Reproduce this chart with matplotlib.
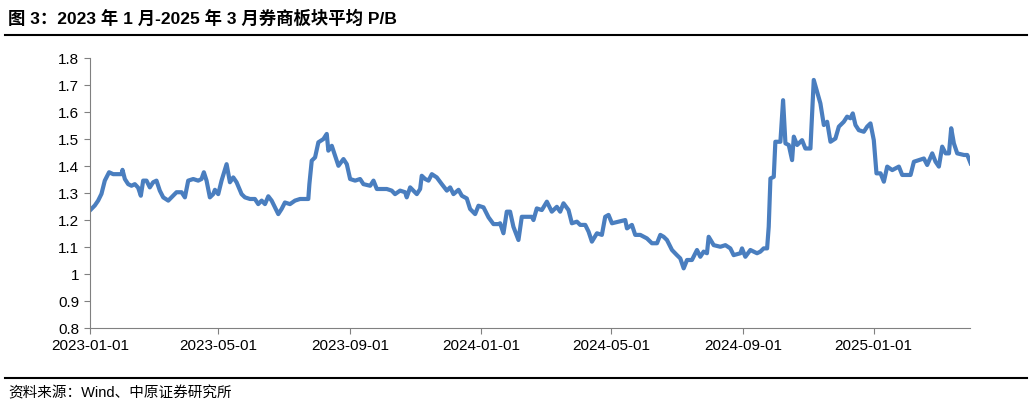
import matplotlib
matplotlib.use("Agg")
import matplotlib.pyplot as plt
from matplotlib.ticker import FuncFormatter
import pandas as pd

plt.rcParams['font.family'] = ['Liberation Sans', 'Noto Sans CJK SC', 'DejaVu Sans']

title = "图 3：2023 年 1 月-2025 年 3 月券商板块平均 P/B"
source = "资料来源：Wind、中原证券研究所"
start_date = "2023-01-01"
# days since 2023-01-01
days = [0, 4.7, 7.8, 10.9, 14.0, 18.0, 21.8, 29.6, 30.5, 32.7, 35.8, 38.9, 42.0, 45.1, 47.6, 49.8, 52.9, 56.0,
        59.1, 62.2, 65.3, 68.5, 73.2, 76.2, 80.9, 85.6, 88.7, 91.8, 96.5, 101.1, 104.2, 106.4, 108.9, 112.0,
        115.1, 116.7, 119.8, 122.9, 127.6, 130.7, 133.8, 136.9, 141.6, 144.7, 149.4, 154.0, 157.1, 160.3,
        163.4, 166.5, 169.6, 172.7, 175.8, 178.9, 182.0, 186.7, 191.4, 196.1, 200.7, 203.8, 204.8, 207.0,
        210.1, 213.2, 217.9, 221.0, 222.5, 225.7, 228.8, 231.9, 236.6, 239.7, 242.8, 247.5, 252.1, 255.2,
        261.5, 264.6, 267.7, 277.0, 281.6, 284.7, 289.4, 294.1, 295.6, 298.8, 305.0, 308.1, 309.6, 312.8,
        315.9, 319.0, 323.6, 328.3, 333.0, 336.1, 339.2, 343.9, 347.0, 351.6, 354.7, 357.9, 359.4, 362.5,
        367.2, 371.9, 376.5, 381.2,
        382.7, 385.8, 388.9, 392.0, 395.1, 399.8, 402.9, 412.3, 413.8, 416.9, 421.6, 426.3, 430.9, 435.6,
        438.7, 441.8, 446.5, 449.6, 454.3, 457.4, 462.1, 465.2, 468.3, 473.0, 477.6, 480.7, 483.8, 487.0,
        493.2, 499.4, 501.0, 505.6, 508.7, 513.4, 519.6, 524.3, 529.0, 532.1, 535.2, 538.3, 543.0, 547.6,
        550.7, 553.9, 557.0, 561.6, 566.3, 569.4, 572.5, 575.6, 577.2, 581.9, 588.1, 592.8, 597.4, 600.5,
        606.8, 608.3, 611.4, 616.1, 622.3, 625.4, 628.5, 631.7, 633.2, 634.8, 637.9, 639.4, 644.1, 646.6,
        648.8, 651.9, 655.0, 656.6, 659.7, 664.3, 667.4, 672.1, 673.7, 675.2, 678.3, 681.4, 684.6, 687.7,
        690.8, 695.4, 698.6, 703.2, 706.3, 709.4, 711.6, 714.1, 717.2, 721.9, 725.0, 728.1, 731.2, 733.7,
        737.5, 740.6, 743.7, 748.4, 754.6, 757.7, 765.5, 768.6, 773.3, 777.9, 781.0, 785.7, 788.8, 791.9,
        795.0, 798.2, 801.3, 803.4, 805.9, 809.0, 815.3, 818.4, 821.5]
pb = [1.235, 1.254, 1.272, 1.297, 1.346, 1.377, 1.370, 1.370, 1.386, 1.352, 1.333, 1.327, 1.333, 1.320, 1.290,
      1.346, 1.346, 1.321, 1.340, 1.346, 1.309, 1.284, 1.272, 1.284, 1.303, 1.303, 1.284, 1.346, 1.352, 1.346,
      1.352, 1.377, 1.346, 1.284, 1.296, 1.312, 1.296, 1.346, 1.407, 1.340, 1.358, 1.340, 1.296, 1.284, 1.278,
      1.278, 1.259, 1.272, 1.259, 1.288, 1.272, 1.247, 1.222, 1.241, 1.265, 1.259, 1.272, 1.278, 1.278, 1.278,
      1.333, 1.420, 1.432, 1.488, 1.500, 1.519, 1.457, 1.475, 1.438, 1.401, 1.426, 1.407, 1.352, 1.346, 1.352,
      1.333, 1.327, 1.346, 1.315, 1.315, 1.309, 1.296, 1.309, 1.303, 1.284, 1.321, 1.296, 1.315, 1.364, 1.352,
      1.346, 1.370, 1.358, 1.333, 1.309, 1.321, 1.296, 1.312, 1.290, 1.280, 1.241, 1.228, 1.222, 1.253, 1.247,
      1.210, 1.185, 1.185,
      1.188, 1.151, 1.231, 1.231, 1.175, 1.126, 1.212, 1.212, 1.200, 1.243, 1.237, 1.268, 1.231, 1.249, 1.231,
      1.262, 1.237, 1.188, 1.194, 1.182, 1.182, 1.157, 1.120, 1.151, 1.145, 1.212, 1.219, 1.188, 1.194, 1.200,
      1.169, 1.182, 1.145, 1.145, 1.132, 1.114, 1.114, 1.145, 1.138, 1.126, 1.089, 1.070, 1.058, 1.021, 1.052,
      1.052, 1.089, 1.064, 1.083, 1.077, 1.138, 1.107, 1.101, 1.107, 1.095, 1.070, 1.077, 1.095, 1.064, 1.089,
      1.077, 1.083, 1.095, 1.095, 1.175, 1.354, 1.360, 1.490, 1.490, 1.644, 1.484, 1.478, 1.422, 1.509, 1.478,
      1.496, 1.465, 1.465, 1.595, 1.719, 1.675, 1.632, 1.552, 1.564, 1.490, 1.502, 1.546, 1.564, 1.583, 1.577,
      1.595, 1.552, 1.533, 1.527, 1.546, 1.558, 1.496, 1.373, 1.373, 1.342, 1.398, 1.385, 1.398, 1.367, 1.367,
      1.416, 1.422, 1.428, 1.404, 1.447, 1.416, 1.398, 1.472, 1.447, 1.447, 1.540, 1.484, 1.447, 1.441, 1.441,
      1.410]
x_ticks = ["2023-01-01", "2023-05-01", "2023-09-01", "2024-01-01", "2024-05-01", "2024-09-01", "2025-01-01"]
y_ticks = [0.8, 0.9, 1.0, 1.1, 1.2, 1.3, 1.4, 1.5, 1.6, 1.7, 1.8]

dates = pd.Timestamp(start_date) + pd.to_timedelta(days, unit="D")

fig = plt.figure(figsize=(10.32, 4.09), dpi=100)
ax = fig.add_axes([0.087, 0.198, 0.853, 0.66])
ax.plot(dates, pb, color="#4A7EBF", lw=3.0, solid_joinstyle="round")
ax.set_ylim(0.8, 1.8)
ax.set_yticks(y_ticks)
ax.yaxis.set_major_formatter(FuncFormatter(lambda v, p: f"{v:g}"))
ax.set_xlim(pd.Timestamp("2023-01-01"), pd.Timestamp("2025-04-01"))
ax.set_xticks(pd.to_datetime(x_ticks))
ax.set_xticklabels(x_ticks)
for s in ["top", "right"]:
    ax.spines[s].set_visible(False)
for s in ["left", "bottom"]:
    ax.spines[s].set_color("#808080")
ax.tick_params(axis="both", colors="#808080", labelcolor="black", labelsize=11, length=4)
ax.tick_params(axis="x", pad=4)

fig.text(0.008, 0.955, title, fontsize=12.5, fontweight="bold", va="center", ha="left")
fig.add_artist(plt.Line2D([0.005, 0.995], [0.915, 0.915], color="black", lw=1.5, transform=fig.transFigure))
fig.add_artist(plt.Line2D([0.005, 0.995], [0.077, 0.077], color="black", lw=1.5, transform=fig.transFigure))
fig.text(0.008, 0.038, source, fontsize=10.5, va="center", ha="left")

fig.savefig("out.png", dpi=100)
